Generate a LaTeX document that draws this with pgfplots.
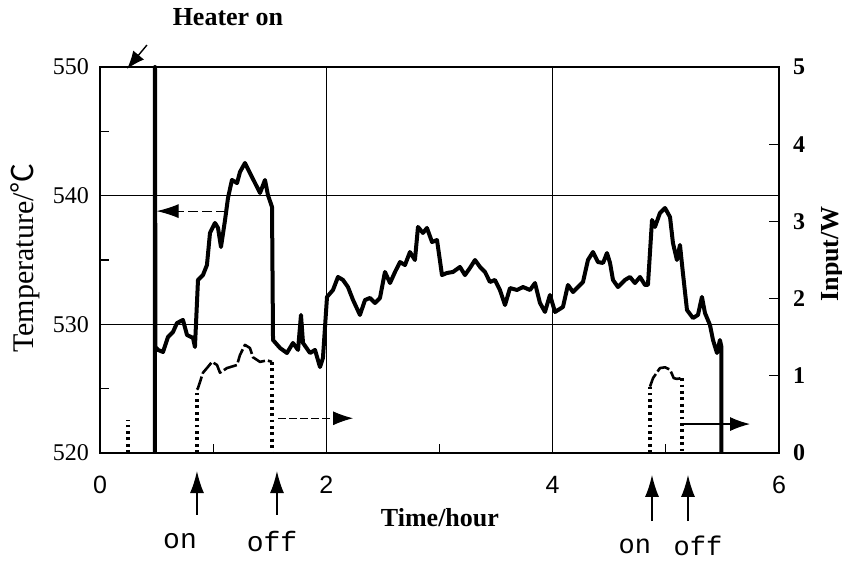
\documentclass[border=0pt]{standalone}
\usepackage{fontspec}
\setmainfont{Liberation Serif}
\setsansfont{Liberation Sans}
\setmonofont{Liberation Mono}
\newfontfamily\cjk{Noto Sans CJK JP}
\usepackage{pgfplots}
\pgfplotsset{compat=1.18}
\usetikzlibrary{arrows.meta}

\begin{document}
\begin{tikzpicture}
\path[use as bounding box] (-50pt,-54.5pt) rectangle (371pt,226.5pt);
% temperature (left axis)
\begin{axis}[
  at={(0,0)}, anchor=south west,
  scale only axis, width=339.5pt, height=193pt,
  xmin=0, xmax=6, ymin=520, ymax=550,
  xtick={0,2,4,6}, minor xtick={1,3,5},
  ytick={520,530,540,550}, minor ytick={525,535,545},
  tick align=inside, xtick pos=bottom, ytick pos=left,
  major tick length=0pt, minor tick length=4.5pt,
  grid=major, major grid style={black, line width=0.6pt},
  minor tick style={black, line width=0.6pt},
  axis line style={line width=1.1pt},
  /pgf/number format/assume math mode=true,
  /pgf/number format/1000 sep={},
  yticklabel style={font=\fontsize{12}{12}\selectfont, xshift=-2pt},
  xticklabel style={font=\sffamily\fontsize{12.5}{12}\selectfont, yshift=-8pt},
  clip=false,
]
\addplot[black, line width=2pt, line join=round] coordinates {
(0.486,520) (0.486,550) (0.490,528.24) (0.513,528.01) (0.557,527.85) (0.601,529.02)
(0.645,529.40) (0.680,530.10) (0.733,530.34) (0.769,529.17) (0.822,528.94) (0.839,528.24)
(0.866,533.45) (0.910,533.83) (0.945,534.61) (0.972,537.10) (1.016,537.88) (1.043,537.49)
(1.069,536.01) (1.105,538.11) (1.131,539.82) (1.166,541.22) (1.211,540.98) (1.237,541.84)
(1.281,542.54) (1.325,541.76) (1.370,540.98) (1.414,540.21) (1.458,541.22) (1.484,540.05)
(1.520,539.12) (1.529,528.78) (1.591,528.16) (1.652,527.77) (1.705,528.55) (1.750,528.01)
(1.776,530.73) (1.794,528.55) (1.856,527.77) (1.900,528.01) (1.944,526.68) (1.970,527.38)
(2.006,532.13) (2.059,532.67) (2.103,533.68) (2.147,533.45) (2.191,532.90) (2.236,531.89)
(2.297,530.73) (2.342,531.89) (2.386,532.05) (2.430,531.66) (2.474,532.05) (2.518,534.07)
(2.563,533.21) (2.607,534.07) (2.651,534.84) (2.695,534.61) (2.739,535.62) (2.783,535.00)
(2.810,537.57) (2.854,537.10) (2.889,537.49) (2.934,536.40) (2.978,536.55) (3.022,533.83)
(3.066,533.99) (3.119,534.07) (3.181,534.46) (3.225,533.83) (3.269,534.38) (3.314,535.00)
(3.358,534.46) (3.402,534.07) (3.446,533.29) (3.490,533.45) (3.534,532.67) (3.579,531.50)
(3.623,532.82) (3.685,532.67) (3.738,532.90) (3.800,532.67) (3.844,533.21) (3.888,531.66)
(3.932,530.96) (3.976,532.28) (4.021,530.96) (4.091,531.35) (4.135,533.06) (4.180,532.51)
(4.224,532.90) (4.268,533.29) (4.312,535.00) (4.356,535.62) (4.400,534.84) (4.445,534.77)
(4.480,535.54) (4.507,534.77) (4.533,533.45) (4.577,532.90) (4.639,533.45) (4.683,533.68)
(4.727,533.21) (4.772,533.68) (4.816,533.06) (4.842,533.06) (4.878,538.11) (4.904,537.57)
(4.948,538.65) (4.993,539.04) (5.037,538.34) (5.063,536.32) (5.098,535.00) (5.125,536.17)
(5.151,533.99) (5.187,531.11) (5.240,530.49) (5.284,530.73) (5.319,532.13) (5.346,530.88)
(5.390,529.95) (5.417,528.78) (5.452,527.77) (5.478,528.78) (5.490,528.30) (5.490,520)
};

% annotations
\node[font=\bfseries\fontsize{13}{13}\selectfont] at (axis cs:1.131,553.9) {Heater on};
\draw[line width=0.7pt, -{Latex[length=9pt,width=7pt]}] (axis cs:0.415,551.71) -- (axis cs:0.239,549.85);
\draw[line width=0.5pt, dash pattern=on 5pt off 2pt, -{Latex[length=11pt,width=7pt]}]
  (axis cs:1.11,538.8) -- (axis cs:0.50,538.8);
\draw[line width=0.5pt, dash pattern=on 4pt off 1.5pt, -{Latex[length=10pt,width=7pt]}]
  (axis cs:1.573,522.7) -- (axis cs:2.236,522.7);
\draw[line width=0.6pt, -{Latex[length=10pt,width=7pt]}]
  (axis cs:5.151,522.25) -- (axis cs:5.744,522.25);

\node[font=\bfseries\fontsize{13}{13}\selectfont] at (axis cs:3.004,514.95) {Time/hour};
\node[rotate=90, font=\fontsize{15}{15}\selectfont] at (axis cs:-0.663,535.16) {Temperature/{\cjk ℃}};

\draw[line width=0.7pt, -{Latex[length=11pt,width=7pt]}] (axis cs:0.857,515.2) -- (axis cs:0.857,518.6);
\draw[line width=0.7pt, -{Latex[length=11pt,width=7pt]}] (axis cs:1.564,515.2) -- (axis cs:1.564,518.6);
\draw[line width=0.7pt, -{Latex[length=11pt,width=7pt]}] (axis cs:4.878,514.7) -- (axis cs:4.878,518.3);
\draw[line width=0.7pt, -{Latex[length=11pt,width=7pt]}] (axis cs:5.196,514.7) -- (axis cs:5.196,518.3);
\node[font=\ttfamily\fontsize{14}{14}\selectfont] at (axis cs:0.707,513.16) {on};
\node[font=\ttfamily\fontsize{14}{14}\selectfont] at (axis cs:1.520,513.16) {off};
\node[font=\ttfamily\fontsize{13.5}{14}\selectfont] at (axis cs:4.727,512.75) {on};
\node[font=\ttfamily\fontsize{13.5}{14}\selectfont] at (axis cs:5.284,512.75) {off};
\end{axis}

% heater input (right axis)
\begin{axis}[
  at={(0,0)}, anchor=south west,
  scale only axis, width=339.5pt, height=193pt,
  xmin=0, xmax=6, ymin=0, ymax=5,
  hide x axis, axis y line*=right,
  ytick={0,1,2,3,4,5},
  tick align=inside, major tick length=5pt,
  major tick style={black, line width=0.6pt},
  axis line style={line width=1.1pt},
  /pgf/number format/assume math mode=true,
  yticklabel style={font=\bfseries\fontsize{12}{12}\selectfont, xshift=3.5pt},
  clip=false,
]
\addplot[black, line width=1.7pt, dash pattern=on 1.4pt off 1.8pt] coordinates {(0.247,0) (0.247,0.43)};
\addplot[black, line width=1.7pt, dash pattern=on 1.4pt off 1.8pt] coordinates {(0.857,0) (0.857,0.82)};
\addplot[black, line width=1.3pt, dash pattern=on 7pt off 1.5pt, line join=round] coordinates {
(0.857,0.82) (0.866,0.84) (0.910,1.04) (0.945,1.10) (0.990,1.18) (1.034,1.14) (1.060,1.04)
(1.122,1.10) (1.211,1.14) (1.237,1.27) (1.281,1.40) (1.325,1.36) (1.352,1.24) (1.414,1.18)
(1.476,1.20) (1.520,1.18)
};
\addplot[black, line width=1.7pt, dash pattern=on 1.4pt off 1.8pt] coordinates {(1.520,1.18) (1.520,0)};
\addplot[black, line width=1.7pt, dash pattern=on 1.4pt off 1.8pt] coordinates {(4.860,0) (4.860,0.86)};
\addplot[black, line width=1.3pt, dash pattern=on 7pt off 1.5pt, line join=round] coordinates {
(4.860,0.86) (4.887,0.97) (4.948,1.10) (4.993,1.11) (5.037,1.08) (5.070,0.97) (5.098,0.96) (5.143,0.97)
};
\addplot[black, line width=1.7pt, dash pattern=on 1.4pt off 1.8pt] coordinates {(5.143,0.97) (5.143,0)};

\node[rotate=90, font=\bfseries\fontsize{13}{13}\selectfont] at (axis cs:6.477,2.58) {Input/W};
\end{axis}
\end{tikzpicture}
\end{document}
